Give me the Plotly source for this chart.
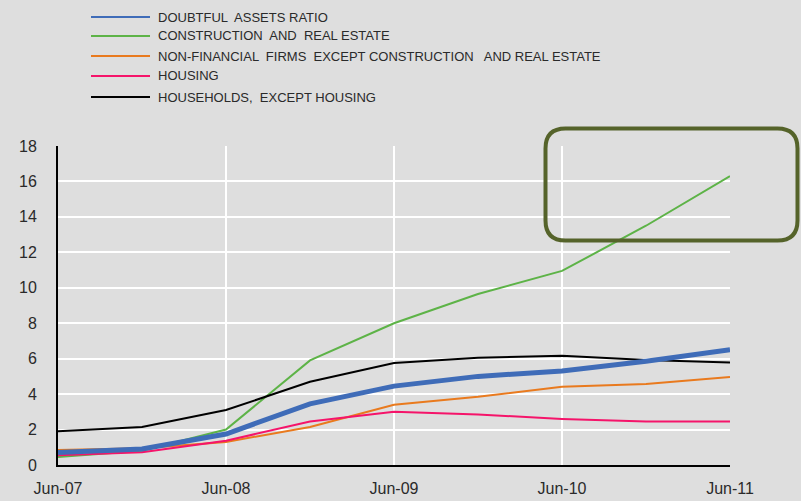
import plotly.graph_objects as go

# Half-year observation dates
periods = ["Jun-07", "Dec-07", "Jun-08", "Dec-08", "Jun-09",
           "Dec-09", "Jun-10", "Dec-10", "Jun-11"]
tick_labels = ["Jun-07", "Jun-08", "Jun-09", "Jun-10", "Jun-11"]

# Doubtful assets ratios (%)
doubtful_ratio = [0.7, 0.9, 1.75, 3.45, 4.45, 5.0, 5.3, 5.85, 6.5]
construction_re = [0.45, 0.8, 2.0, 5.9, 8.0, 9.65, 10.95, 13.5, 16.3]
non_financial = [0.85, 0.95, 1.3, 2.15, 3.4, 3.85, 4.42, 4.57, 4.97]
housing = [0.55, 0.72, 1.37, 2.45, 3.0, 2.85, 2.6, 2.45, 2.45]
households = [1.9, 2.15, 3.1, 4.7, 5.75, 6.05, 6.17, 5.93, 5.78]

series = [
    ("DOUBTFUL  ASSETS RATIO", doubtful_ratio, "#3F6CB8", 5),
    ("CONSTRUCTION  AND  REAL ESTATE", construction_re, "#5DB347", 2),
    ("NON-FINANCIAL  FIRMS  EXCEPT CONSTRUCTION   AND REAL ESTATE", non_financial, "#E97A1E", 2),
    ("HOUSING", housing, "#F5146A", 2),
    ("HOUSEHOLDS,  EXCEPT HOUSING", households, "#000000", 2),
]

W, H = 801, 501
L, R, T, B = 58, 71, 146, 36
PW, PH = W - L - R, H - T - B


def px(x):
    return (x - L) / PW


def py(y):
    return (H - B - y) / PH


fig = go.Figure()
# draw order: thin lines first, the headline ratio on top
for name, vals, color, width in [series[1], series[2], series[3], series[4], series[0]]:
    fig.add_trace(go.Scatter(x=list(range(len(periods))), y=vals, mode="lines",
                             name=name, line=dict(color=color, width=width),
                             showlegend=False))

shapes = []
annotations = []
# Legend drawn as short line swatches with labels
leg_y = [17, 36, 56, 76, 97]
for (name, vals, color, width), yy in zip(series, leg_y):
    shapes.append(dict(type="line", xref="paper", yref="paper",
                       x0=px(91), x1=px(150), y0=py(yy), y1=py(yy),
                       line=dict(color=color, width=2)))
    annotations.append(dict(xref="paper", yref="paper", x=px(156), y=py(yy),
                            text=name, showarrow=False, xanchor="left",
                            yanchor="middle",
                            font=dict(family="Liberation Sans, Arial", size=13,
                                      color="#2a2a2a")))

# Rounded highlight box around the latest construction values
x0, x1, y0, y1, r = 545.5, 797.5, 128.5, 240.5, 20


def pt(x, y):
    return f"{px(x):.5f},{py(y):.5f}"


path = (f"M {pt(x0 + r, y0)} L {pt(x1 - r, y0)} Q {pt(x1, y0)} {pt(x1, y0 + r)} "
        f"L {pt(x1, y1 - r)} Q {pt(x1, y1)} {pt(x1 - r, y1)} "
        f"L {pt(x0 + r, y1)} Q {pt(x0, y1)} {pt(x0, y1 - r)} "
        f"L {pt(x0, y0 + r)} Q {pt(x0, y0)} {pt(x0 + r, y0)} Z")
shapes.append(dict(type="path", xref="paper", yref="paper", path=path,
                   line=dict(color="#55632A", width=4), layer="above"))

fig.update_layout(
    width=W, height=H,
    margin=dict(l=L, r=R, t=T, b=B),
    paper_bgcolor="#DEDEDE", plot_bgcolor="#DEDEDE",
    showlegend=False,
    shapes=shapes, annotations=annotations,
    font=dict(family="Liberation Sans, Arial", size=16, color="#2a2a2a"),
    xaxis=dict(range=[0, 8], tickvals=[0, 2, 4, 6, 8], ticktext=tick_labels,
               showgrid=True, gridcolor="#FFFFFF", gridwidth=2,
               showline=True, linecolor="#000000", linewidth=2,
               ticks="", ticklabelstandoff=8, zeroline=False, automargin=False,
               tickfont=dict(size=16, color="#2a2a2a")),
    yaxis=dict(range=[0, 18], tickvals=list(range(0, 19, 2)),
               showgrid=True, gridcolor="#FFFFFF", gridwidth=2,
               showline=True, linecolor="#000000", linewidth=2,
               ticks="", ticklabelstandoff=16, zeroline=False, automargin=False,
               tickfont=dict(size=16, color="#2a2a2a")),
)

fig.write_html("out.html")
